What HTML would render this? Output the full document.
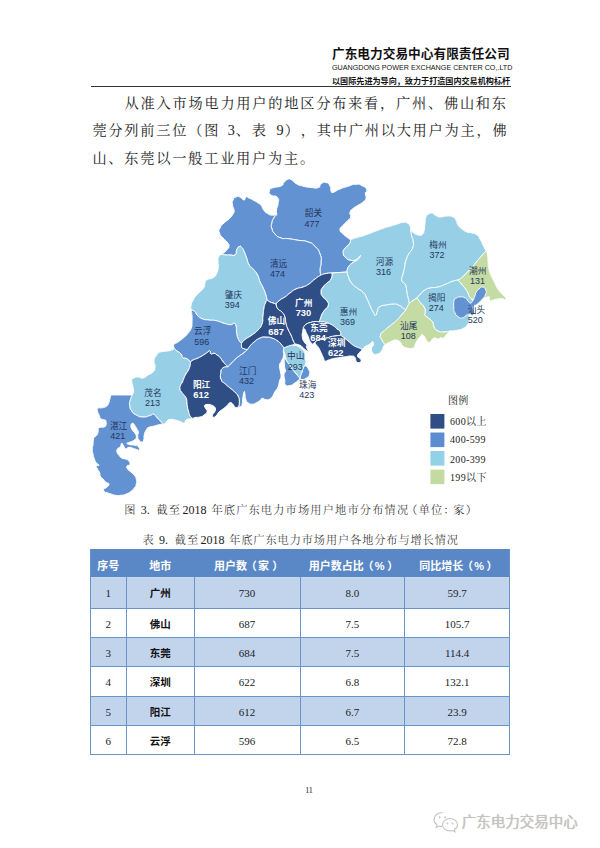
<!DOCTYPE html>
<html lang="zh-CN">
<head>
<meta charset="utf-8">
<title>广东电力交易中心有限责任公司 - 第11页</title>
<style>
html,body{margin:0;padding:0;background:#fff;}
body{width:600px;height:848px;position:relative;overflow:hidden;color:#111;
  font-family:"Liberation Serif","Noto Serif CJK SC",serif;}
.abs{position:absolute;white-space:nowrap;}
/* header */
.h1{left:332px;top:45.5px;width:180px;font:bold 12.7px/16px "Liberation Sans","Noto Sans CJK SC",sans-serif;color:#111;letter-spacing:0px;}
.h2{left:331.5px;top:62.5px;width:200px;transform-origin:0 0;transform:scaleX(0.92);font:7.8px/10px "Liberation Sans","Noto Sans CJK SC",sans-serif;color:#111;}
.h3{left:332px;top:75.7px;width:180px;font:bold 8.1px/11px "Liberation Sans","Noto Sans CJK SC",sans-serif;color:#111;}
.hline{left:91px;top:86.3px;width:420px;height:1px;background:#333;}
/* paragraph */
.para{left:92.4px;top:90px;width:440px;text-spacing-trim:space-all;font:400 14.2px/27.4px "Liberation Serif","Noto Serif CJK SC",serif;letter-spacing:1.78px;color:#222;white-space:normal;}
.para div{white-space:nowrap;}
.para i{font-style:normal;display:inline-block;text-align:right;letter-spacing:0;}
/* captions */
.cap{font:300 11.2px/14px "Liberation Serif","Noto Serif CJK SC",serif;color:#1a1a1a;text-spacing-trim:space-all;}
.cap b{font-weight:normal;font-size:12px;letter-spacing:0;display:inline-block;}
/* table */
/* table */
.tb{position:absolute;left:0;top:0;}
.row{position:absolute;left:90px;width:420px;}
.row span{position:absolute;top:0;height:100%;text-align:center;white-space:nowrap;}
.hd{background:#5a88c6;color:#fff;text-spacing-trim:space-all;font-weight:bold;font-size:11px;font-family:"Liberation Sans","Noto Sans CJK SC",sans-serif;}
.bd{font-size:11px;font-family:"Liberation Serif","Noto Serif CJK SC",serif;color:#222;}
.bd .c{font-weight:bold;font-size:10.5px;font-family:"Liberation Sans","Noto Sans CJK SC",sans-serif;color:#111;}
.o{background:#c2d4ec;}
.hd u{text-decoration:none;position:relative;}
.hl,.vl{position:absolute;background:#6a93c8;}
/* footer */
.pg{left:305px;top:784px;font:9px/12px "Liberation Serif",serif;color:#333;letter-spacing:-0.6px;}
.wm{left:461.5px;top:812px;font:14.5px/20px "Liberation Sans","Noto Sans CJK SC",sans-serif;color:#c4c4c4;text-shadow:0.4px 0.4px 0.8px #b8b8b8;}
svg text{font-family:"Liberation Sans","Noto Sans CJK SC",sans-serif;}
.r{stroke:#fdfeff;stroke-width:1;stroke-linejoin:round;}
.lb{font-size:8.7px;fill:#24365e;}
.nm{font-size:9px;fill:#24365e;}
.lw{font-size:8.7px;fill:#fff;font-weight:bold;}
.nw{font-size:9.3px;fill:#fff;font-weight:bold;}
.lg{font-family:"Liberation Serif","Noto Serif CJK SC",serif;font-size:10px;letter-spacing:0.35px;fill:#222;}
</style>
</head>
<body>
<div class="abs h1">广东电力交易中心有限责任公司</div>
<div class="abs h2">GUANGDONG POWER EXCHANGE CENTER CO,.LTD</div>
<div class="abs h3">以国际先进为导向，致力于打造国内交易机构标杆</div>
<div class="abs hline"></div>

<div class="abs para">
<div style="padding-left:32.2px">从准入市场电力用户的地区分布来看，广州、佛山和东</div>
<div>莞分列前三位（图<i style="width:14.6px;padding-right:1px">3</i>、表<i style="width:16px;padding-right:1.2px">9</i>），其中广州以大用户为主，佛</div>
<div>山、东莞以一般工业用户为主。</div>
</div>

<svg class="abs" style="left:0;top:0" width="600" height="848" viewBox="0 0 600 848">
<g id="map">
<path class="r" fill="#6292d1" d="M277.0 214.3C276.8 212.9 276.2 213.4 276.5 210.0C276.8 206.6 277.7 208.2 278.0 204.0C278.3 199.8 279.8 200.5 277.5 197.5C275.2 194.5 273.7 197.2 271.0 195.0C268.3 192.8 269.0 193.3 269.5 191.0C270.0 188.7 268.7 189.7 272.5 188.0C276.3 186.3 277.2 187.8 281.0 186.0C284.8 184.2 281.8 184.7 284.0 182.5C286.2 180.3 285.2 180.5 287.5 179.5C289.8 178.5 288.2 178.2 291.0 179.5C293.8 180.8 292.2 181.3 296.0 183.5C299.8 185.7 297.5 184.7 302.5 186.0C307.5 187.3 305.7 187.0 311.0 187.5C316.3 188.0 315.2 188.7 318.5 187.5C321.8 186.3 318.5 185.7 321.0 184.0C323.5 182.3 323.0 181.8 326.0 182.5C329.0 183.2 328.3 183.2 330.0 186.0C331.7 188.8 330.1 188.8 331.0 191.0C331.9 193.2 331.0 192.5 332.7 192.5C334.4 192.5 333.6 192.2 336.0 191.0C338.4 189.8 336.0 190.6 340.0 189.0C344.0 187.4 342.7 187.9 348.0 186.3C353.3 184.7 351.3 184.5 356.0 184.3C360.7 184.1 358.4 183.9 362.0 185.7C365.6 187.5 365.6 187.0 366.7 189.7C367.8 192.4 365.5 190.8 365.3 193.7C365.1 196.6 366.9 195.4 366.0 198.3C365.1 201.2 365.6 199.8 362.7 202.3C359.8 204.8 360.4 203.7 357.3 205.7C354.2 207.7 355.7 206.1 353.3 208.3C350.9 210.5 350.9 209.4 350.0 212.3C349.1 215.2 351.4 214.3 350.7 217.0C350.0 219.7 350.7 217.4 348.0 220.3C345.3 223.2 345.4 222.6 342.7 225.7C340.0 228.8 340.0 227.0 340.0 229.7C340.0 232.4 340.5 231.3 342.7 233.7C344.9 236.1 344.1 235.0 346.7 237.0C349.3 239.0 349.3 238.9 350.6 239.8C350.1 241.3 351.1 241.4 349.2 244.2C347.3 247.0 347.0 245.3 345.0 248.3C343.0 251.3 343.0 250.2 343.3 253.3C343.6 256.4 343.6 255.3 345.8 257.5C348.0 259.7 346.9 259.2 350.0 260.0C353.1 260.8 351.9 261.1 355.0 260.0C358.1 258.9 357.4 258.2 359.2 256.7C361.0 255.2 360.9 254.6 360.5 255.5C360.1 256.4 360.5 257.2 358.0 259.5C355.5 261.8 356.0 260.3 353.0 262.5C350.0 264.7 350.8 263.8 349.0 266.0C347.2 268.2 348.2 267.0 347.5 269.0C346.8 271.0 347.2 271.0 347.0 272.0L332.0 273.0C330.0 273.2 329.7 272.8 326.0 273.5C322.3 274.2 322.7 274.5 321.0 275.0C320.7 273.3 320.0 274.2 320.0 270.0C320.0 265.8 321.0 267.8 321.0 262.5C321.0 257.2 322.0 259.3 320.0 254.0C318.0 248.7 318.9 250.5 315.0 246.5C311.1 242.5 314.1 244.1 308.3 242.0C302.5 239.9 304.4 241.3 297.7 240.2C291.0 239.1 293.9 239.4 288.3 238.7C282.7 238.0 285.4 239.6 281.0 238.0C276.6 236.4 278.1 237.3 275.0 234.0C271.9 230.7 272.8 231.6 271.7 228.0C270.6 224.4 271.0 226.6 271.7 223.3C272.4 220.0 271.9 221.0 273.7 218.0C275.5 215.0 275.9 215.5 277.0 214.3Z"/>
<path class="r" fill="#6292d1" d="M277.0 214.3C275.4 214.6 275.4 215.4 272.3 215.2C269.2 215.0 270.6 215.3 267.7 213.6C264.8 211.9 265.9 212.8 263.7 210.0C261.5 207.2 263.0 207.7 261.0 205.3C259.0 202.9 260.0 204.3 257.7 202.7C255.4 201.1 256.9 202.1 254.0 200.5C251.1 198.9 251.7 199.2 249.0 198.0C246.3 196.8 247.7 196.3 246.0 197.0C244.3 197.7 246.0 200.0 244.0 200.0C242.0 200.0 242.7 198.0 240.0 197.0C237.3 196.0 238.3 196.0 236.0 197.0C233.7 198.0 234.2 197.3 233.0 200.0C231.8 202.7 232.2 201.7 232.5 205.0C232.8 208.3 233.8 207.0 234.0 210.0C234.2 213.0 234.7 211.0 233.0 214.0C231.3 217.0 232.0 216.0 229.0 219.0C226.0 222.0 227.0 220.0 224.0 223.0C221.0 226.0 221.5 224.7 220.0 228.0C218.5 231.3 218.5 229.7 219.5 233.0C220.5 236.3 220.5 235.0 223.0 238.0C225.5 241.0 225.0 239.3 227.0 242.0C229.0 244.7 229.1 243.3 229.0 246.0C228.9 248.7 229.0 247.2 226.7 250.0C224.4 252.8 223.6 252.9 222.0 254.3C223.3 254.5 223.3 254.8 226.0 255.0C228.7 255.2 226.9 255.1 230.0 255.0C233.1 254.9 233.1 256.4 235.3 254.7C237.5 253.0 235.4 252.7 236.7 250.0C238.0 247.3 237.5 247.5 239.2 246.7C240.9 245.9 240.0 245.8 241.7 247.5C243.4 249.2 242.5 248.1 244.2 251.7C245.9 255.3 245.0 253.9 246.7 258.3C248.4 262.7 247.0 261.4 249.2 265.0C251.4 268.6 250.5 265.9 253.3 269.2C256.1 272.5 255.3 270.8 257.5 275.0C259.7 279.2 258.1 277.3 260.0 281.7C261.9 286.1 261.4 283.9 263.3 288.3C265.2 292.7 264.6 291.1 265.8 295.0C267.0 298.9 266.6 298.3 267.0 300.0C268.0 300.7 268.0 301.0 270.0 302.0C272.0 303.0 271.0 302.3 273.0 303.0C275.0 303.7 275.0 303.7 276.0 304.0C277.3 302.7 277.0 302.3 280.0 300.0C283.0 297.7 281.7 299.3 285.0 297.0C288.3 294.7 286.3 295.7 290.0 293.0C293.7 290.3 291.7 291.0 296.0 289.0C300.3 287.0 298.7 288.7 303.0 287.0C307.3 285.3 305.0 286.7 309.0 284.0C313.0 281.3 311.0 282.0 315.0 279.0C319.0 276.0 319.0 276.3 321.0 275.0C320.7 273.3 320.0 274.2 320.0 270.0C320.0 265.8 321.0 267.8 321.0 262.5C321.0 257.2 322.0 259.3 320.0 254.0C318.0 248.7 318.9 250.5 315.0 246.5C311.1 242.5 314.1 244.1 308.3 242.0C302.5 239.9 304.4 241.3 297.7 240.2C291.0 239.1 293.9 239.4 288.3 238.7C282.7 238.0 285.4 239.6 281.0 238.0C276.6 236.4 278.1 237.3 275.0 234.0C271.9 230.7 272.8 231.6 271.7 228.0C270.6 224.4 271.0 226.6 271.7 223.3C272.4 220.0 271.9 221.0 273.7 218.0C275.5 215.0 275.9 215.5 277.0 214.3Z"/>
<path class="r" fill="#97d0e6" d="M222.0 254.3C220.9 255.1 220.0 254.2 218.7 256.7C217.4 259.2 218.1 258.4 218.0 261.7C217.9 265.0 218.7 262.8 218.3 266.7C217.9 270.6 218.4 269.7 216.7 273.3C215.0 276.9 216.6 275.3 213.3 277.5C210.0 279.7 209.5 278.1 206.7 280.0C203.9 281.9 206.1 280.5 205.0 283.3C203.9 286.1 206.1 284.4 203.3 288.3C200.5 292.2 200.0 291.1 196.7 295.0C193.4 298.9 195.2 296.5 193.3 300.0C191.4 303.5 191.7 302.2 191.0 305.5C190.3 308.8 191.2 308.5 191.3 310.0C192.4 310.5 192.7 309.7 194.7 311.5C196.7 313.3 194.9 312.9 197.3 315.3C199.7 317.7 198.2 317.1 202.0 318.7C205.8 320.3 204.0 319.3 208.7 320.0C213.4 320.7 210.9 319.6 216.0 320.7C221.1 321.8 219.1 322.0 224.0 323.3C228.9 324.6 227.4 324.7 230.7 324.7C234.0 324.7 232.2 322.9 234.0 323.3C235.8 323.7 235.1 322.7 236.0 326.0C236.9 329.3 235.9 328.8 236.7 333.3C237.5 337.8 236.9 336.1 238.5 339.5C240.1 342.9 240.5 342.2 241.5 343.5C242.7 342.2 241.5 342.3 245.0 339.5C248.5 336.7 247.7 338.2 252.0 335.0C256.3 331.8 254.7 333.7 258.0 330.0C261.3 326.3 260.3 328.7 262.0 324.0C263.7 319.3 262.3 321.3 263.0 316.0C263.7 310.7 263.2 312.3 264.0 308.0C264.8 303.7 264.5 305.7 265.5 303.0C266.5 300.3 266.5 301.0 267.0 300.0C266.6 298.3 267.0 298.9 265.8 295.0C264.6 291.1 265.2 292.7 263.3 288.3C261.4 283.9 261.9 286.1 260.0 281.7C258.1 277.3 259.7 279.2 257.5 275.0C255.3 270.8 256.1 272.5 253.3 269.2C250.5 265.9 251.4 268.6 249.2 265.0C247.0 261.4 248.4 262.7 246.7 258.3C245.0 253.9 245.9 255.3 244.2 251.7C242.5 248.1 243.4 249.2 241.7 247.5C240.0 245.8 240.9 245.9 239.2 246.7C237.5 247.5 238.0 247.3 236.7 250.0C235.4 252.7 237.5 253.0 235.3 254.7C233.1 256.4 233.1 254.9 230.0 255.0C226.9 255.1 228.7 255.2 226.0 255.0C223.3 254.8 223.3 254.5 222.0 254.3Z"/>
<path class="r" fill="#6292d1" d="M191.3 310.0C191.5 312.0 191.8 311.8 192.0 316.0C192.2 320.2 192.2 318.7 192.0 322.7C191.8 326.7 192.6 324.5 191.3 328.0C190.0 331.5 190.7 330.0 188.0 333.3C185.3 336.6 186.6 335.1 183.3 338.0C180.0 340.9 180.9 340.0 178.0 342.0C175.1 344.0 176.0 342.9 174.5 344.0C173.0 345.1 173.5 343.7 173.4 345.2C173.3 346.7 174.0 347.4 174.3 348.5C175.2 349.3 174.8 349.2 177.0 351.0C179.2 352.8 179.2 351.8 181.0 354.0C182.8 356.2 180.8 356.0 182.5 357.5C184.2 359.0 183.8 357.5 186.0 358.5C188.2 359.5 187.5 359.3 189.0 360.5C190.5 361.7 190.0 361.5 190.5 362.0C191.3 361.3 190.8 361.2 193.0 360.0C195.2 358.8 194.3 359.7 197.0 358.5C199.7 357.3 198.3 358.0 201.0 356.5C203.7 355.0 202.7 355.5 205.0 354.0C207.3 352.5 206.4 353.1 208.0 352.0C209.6 350.9 208.7 350.1 209.7 350.8C210.7 351.5 209.6 353.2 211.0 354.0C212.4 354.8 212.0 353.0 214.0 353.3C216.0 353.6 215.0 353.6 217.0 355.0C219.0 356.4 218.2 355.5 220.0 357.5C221.8 359.5 220.7 358.7 222.5 361.0C224.3 363.3 223.7 362.6 225.5 364.5C227.3 366.4 227.2 366.0 228.0 366.7C228.9 365.8 228.3 366.5 230.7 364.0C233.1 361.5 232.4 362.0 235.3 359.3C238.2 356.6 236.4 358.2 239.3 356.0C242.2 353.8 241.3 354.9 244.0 352.7C246.7 350.5 246.3 350.6 247.5 349.5C246.5 349.3 246.3 349.5 244.5 348.8C242.7 348.1 243.0 349.3 242.0 347.5C241.0 345.7 241.7 344.8 241.5 343.5C240.5 342.2 240.1 342.9 238.5 339.5C236.9 336.1 237.5 337.8 236.7 333.3C235.9 328.8 236.9 329.3 236.0 326.0C235.1 322.7 235.8 323.7 234.0 323.3C232.2 322.9 234.0 324.7 230.7 324.7C227.4 324.7 228.9 324.6 224.0 323.3C219.1 322.0 221.1 321.8 216.0 320.7C210.9 319.6 213.4 320.7 208.7 320.0C204.0 319.3 205.8 320.3 202.0 318.7C198.2 317.1 199.7 317.7 197.3 315.3C194.9 312.9 196.7 313.3 194.7 311.5C192.7 309.7 192.4 310.5 191.3 310.0Z"/>
<path class="r" fill="#97d0e6" d="M350.6 239.8C352.6 239.0 352.5 238.8 356.7 237.5C360.9 236.2 358.9 237.2 363.3 235.8C367.7 234.4 365.5 235.0 370.0 233.3C374.5 231.6 372.3 232.5 376.7 230.8C381.1 229.1 378.9 229.8 383.3 228.3C387.7 226.8 385.5 227.7 390.0 226.3C394.5 224.9 392.3 225.5 396.7 224.2C401.1 222.9 399.7 222.8 403.3 222.5C406.9 222.2 405.3 222.2 407.5 223.3C409.7 224.4 408.9 223.6 410.0 225.8C411.1 228.0 410.5 228.6 410.8 230.0C411.1 231.9 410.9 231.9 411.7 235.8C412.5 239.7 413.0 237.5 413.3 241.7C413.6 245.9 413.9 244.4 412.5 248.3C411.1 252.2 411.1 250.0 409.2 253.3C407.3 256.6 408.0 255.0 406.7 258.3C405.4 261.6 405.8 261.1 405.2 263.3C404.6 265.5 405.6 261.7 405.0 265.0C404.4 268.3 404.4 268.5 403.3 273.3C402.2 278.1 401.5 276.3 401.7 279.5C401.9 282.7 402.6 281.0 404.0 283.0C405.4 285.0 404.8 282.6 405.8 285.5C406.8 288.4 406.2 287.9 406.9 291.7C407.6 295.5 407.4 294.1 408.0 297.0C408.6 299.9 408.4 298.3 408.8 300.5C409.2 302.7 409.1 302.5 409.2 303.5C408.6 304.5 408.6 304.3 407.5 306.5C406.4 308.7 406.4 308.8 405.8 310.0C405.0 309.4 405.8 310.0 403.3 308.3C400.8 306.6 401.6 306.4 398.3 305.0C395.0 303.6 397.2 304.2 393.3 304.2C389.4 304.2 391.1 304.2 386.7 305.0C382.3 305.8 383.1 304.8 380.0 306.7C376.9 308.6 378.9 307.9 377.5 310.8C376.1 313.7 377.2 314.7 375.8 315.3C374.4 315.9 375.2 315.7 373.3 312.5C371.4 309.3 372.2 310.5 370.0 305.8C367.8 301.1 368.9 302.7 366.7 298.3C364.5 293.9 366.4 295.8 363.3 292.5C360.2 289.2 361.4 291.4 357.5 288.3C353.6 285.2 354.8 287.2 351.7 283.3C348.6 279.4 349.9 280.5 348.3 276.7C346.7 272.9 347.4 273.6 347.0 272.0C347.2 271.0 346.8 271.0 347.5 269.0C348.2 267.0 347.2 268.2 349.0 266.0C350.8 263.8 350.0 264.7 353.0 262.5C356.0 260.3 355.5 261.8 358.0 259.5C360.5 257.2 360.1 256.4 360.5 255.5C360.9 254.6 361.0 255.2 359.2 256.7C357.4 258.2 358.1 258.9 355.0 260.0C351.9 261.1 353.1 260.8 350.0 260.0C346.9 259.2 348.0 259.7 345.8 257.5C343.6 255.3 343.6 256.4 343.3 253.3C343.0 250.2 343.0 251.3 345.0 248.3C347.0 245.3 347.3 247.0 349.2 244.2C351.1 241.4 350.1 241.3 350.6 239.8Z"/>
<path class="r" fill="#97d0e6" d="M410.8 230.0C411.6 230.8 410.8 230.8 413.3 232.5C415.8 234.2 415.2 234.4 418.3 235.0C421.4 235.6 420.5 235.9 422.5 234.2C424.5 232.5 423.4 233.6 424.2 230.0C425.0 226.4 424.5 227.5 425.0 223.3C425.5 219.1 424.8 220.4 425.8 217.5C426.8 214.6 425.9 216.0 428.0 214.5C430.1 213.0 429.7 212.8 432.0 213.0C434.3 213.2 432.3 213.7 435.0 215.0C437.7 216.3 436.0 216.7 440.0 217.0C444.0 217.3 442.7 216.0 447.0 216.0C451.3 216.0 450.0 215.7 453.0 217.0C456.0 218.3 454.3 217.3 456.0 220.0C457.7 222.7 456.0 222.0 458.0 225.0C460.0 228.0 459.0 226.7 462.0 229.0C465.0 231.3 463.7 230.7 467.0 232.0C470.3 233.3 468.7 232.0 472.0 233.0C475.3 234.0 474.3 233.0 477.0 235.0C479.7 237.0 478.0 235.7 480.0 239.0C482.0 242.3 481.0 241.0 483.0 245.0C485.0 249.0 485.0 249.0 486.0 251.0C484.5 252.7 484.8 252.2 481.5 256.0C478.2 259.8 479.5 258.3 476.0 262.5C472.5 266.7 474.5 264.7 471.0 268.5C467.5 272.3 468.7 270.8 465.5 274.0C462.3 277.2 464.0 276.0 461.5 278.0C459.0 280.0 459.2 279.3 458.0 280.0C456.0 280.5 456.3 280.0 452.0 281.5C447.7 283.0 449.7 282.7 445.0 284.5C440.3 286.3 443.0 285.8 438.0 287.0C433.0 288.2 434.3 287.0 430.0 288.0C425.7 289.0 428.0 288.2 425.0 290.0C422.0 291.8 423.7 290.8 421.0 293.5C418.3 296.2 418.3 296.5 417.0 298.0C415.7 298.8 415.6 298.7 413.0 300.5C410.4 302.3 410.5 302.5 409.2 303.5C409.1 302.5 409.2 302.7 408.8 300.5C408.4 298.3 408.6 299.9 408.0 297.0C407.4 294.1 407.6 295.5 406.9 291.7C406.2 287.9 406.8 288.4 405.8 285.5C404.8 282.6 405.4 285.0 404.0 283.0C402.6 281.0 401.9 282.7 401.7 279.5C401.5 276.3 402.2 278.1 403.3 273.3C404.4 268.5 404.4 268.3 405.0 265.0C405.6 261.7 404.6 265.5 405.2 263.3C405.8 261.1 405.4 261.6 406.7 258.3C408.0 255.0 407.3 256.6 409.2 253.3C411.1 250.0 411.1 252.2 412.5 248.3C413.9 244.4 413.6 245.9 413.3 241.7C413.0 237.5 412.5 239.7 411.7 235.8C410.9 231.9 411.1 231.9 410.8 230.0Z"/>
<path class="r" fill="#97d0e6" d="M332.0 273.0L347.0 272.0C347.4 273.6 346.7 272.9 348.3 276.7C349.9 280.5 348.6 279.4 351.7 283.3C354.8 287.2 353.6 285.2 357.5 288.3C361.4 291.4 360.2 289.2 363.3 292.5C366.4 295.8 364.5 293.9 366.7 298.3C368.9 302.7 367.8 301.1 370.0 305.8C372.2 310.5 371.4 309.3 373.3 312.5C375.2 315.7 374.4 315.9 375.8 315.3C377.2 314.7 376.1 313.7 377.5 310.8C378.9 307.9 376.9 308.6 380.0 306.7C383.1 304.8 382.3 305.8 386.7 305.0C391.1 304.2 389.4 304.2 393.3 304.2C397.2 304.2 395.0 303.6 398.3 305.0C401.6 306.4 400.8 306.6 403.3 308.3C405.8 310.0 405.0 309.4 405.8 310.0C404.4 311.7 404.6 311.5 401.5 315.0C398.4 318.5 400.2 317.0 396.5 320.5C392.8 324.0 394.5 322.2 390.5 325.5C386.5 328.8 387.8 327.3 384.5 330.5C381.2 333.7 381.3 331.8 380.5 335.0C379.7 338.2 380.5 336.8 382.0 340.0C383.5 343.2 384.0 343.0 385.0 344.5C384.5 345.2 384.7 344.3 383.5 346.5C382.3 348.7 383.5 348.5 381.5 351.0C379.5 353.5 380.2 353.2 377.5 354.0C374.8 354.8 375.5 355.2 373.5 353.5C371.5 351.8 371.6 351.8 371.5 349.0C371.4 346.2 373.0 347.4 373.3 345.0C373.6 342.6 373.6 342.0 372.5 341.7C371.4 341.4 372.5 342.3 370.0 344.0C367.5 345.7 367.7 344.7 365.0 346.7C362.3 348.7 363.0 348.9 362.0 350.0C361.6 349.6 362.3 349.6 360.7 348.7C359.1 347.8 359.8 348.4 357.3 347.3C354.8 346.2 356.0 347.1 353.3 345.3C350.6 343.5 352.0 344.2 349.3 342.0C346.6 339.8 347.4 340.4 345.3 338.7C343.2 337.0 344.5 338.1 343.0 337.0C341.5 335.9 341.5 335.9 340.7 335.3C340.5 334.0 341.3 333.5 340.0 331.3C338.7 329.1 339.1 330.7 336.7 328.7C334.3 326.7 336.0 327.3 332.7 325.3C329.4 323.3 329.9 323.9 326.7 322.7C323.5 321.5 325.6 322.0 323.0 321.8C320.4 321.6 320.3 321.9 319.0 322.0C319.5 320.7 319.5 320.7 320.5 318.0C321.5 315.3 320.5 316.8 322.0 314.0C323.5 311.2 323.0 312.2 325.0 309.5C327.0 306.8 327.3 308.8 328.0 306.0C328.7 303.2 328.7 304.0 327.0 301.0C325.3 298.0 325.0 300.0 323.0 297.0C321.0 294.0 321.0 295.3 321.0 292.0C321.0 288.7 321.0 290.0 323.0 287.0C325.0 284.0 324.3 285.7 327.0 283.0C329.7 280.3 329.3 282.3 331.0 279.0C332.7 275.7 331.7 275.0 332.0 273.0Z"/>
<path class="r" fill="#c4dba3" d="M486.0 251.0C486.5 252.3 486.8 251.5 487.5 255.0C488.2 258.5 487.6 257.2 488.0 261.5C488.4 265.8 487.8 263.6 488.7 268.0C489.6 272.4 488.9 270.3 490.7 274.7C492.5 279.1 491.8 276.9 494.0 281.3C496.2 285.7 494.9 284.0 497.3 288.0C499.7 292.0 498.4 289.7 501.3 293.3C504.2 296.9 506.4 296.9 506.0 298.7C505.6 300.5 504.2 298.3 500.0 298.7C495.8 299.1 496.6 299.3 493.3 300.0C490.0 300.7 491.3 301.7 490.0 300.7C488.7 299.7 490.4 298.1 489.3 297.0C488.2 295.9 488.5 297.0 486.7 297.3C484.9 297.6 486.9 297.1 484.0 298.0C481.1 298.9 482.2 299.8 478.0 300.0C473.8 300.2 473.5 299.1 471.3 298.7C470.6 298.0 470.4 298.5 469.3 296.7C468.2 294.9 469.3 296.0 468.0 293.3C466.7 290.6 467.5 291.8 465.3 288.7C463.1 285.6 463.7 286.9 461.3 284.0C458.9 281.1 459.1 281.3 458.0 280.0C459.2 279.3 459.0 280.0 461.5 278.0C464.0 276.0 462.3 277.2 465.5 274.0C468.7 270.8 467.5 272.3 471.0 268.5C474.5 264.7 472.5 266.7 476.0 262.5C479.5 258.3 478.2 259.8 481.5 256.0C484.8 252.2 484.5 252.7 486.0 251.0Z"/>
<path class="r" fill="#97d0e6" d="M417.0 298.0C418.3 296.5 418.3 296.2 421.0 293.5C423.7 290.8 422.0 291.8 425.0 290.0C428.0 288.2 425.7 289.0 430.0 288.0C434.3 287.0 433.0 288.2 438.0 287.0C443.0 285.8 440.3 286.3 445.0 284.5C449.7 282.7 447.7 283.0 452.0 281.5C456.3 280.0 456.0 280.5 458.0 280.0C459.1 281.3 458.9 281.1 461.3 284.0C463.7 286.9 463.1 285.6 465.3 288.7C467.5 291.8 466.7 290.6 468.0 293.3C469.3 296.0 468.2 294.9 469.3 296.7C470.4 298.5 470.6 298.0 471.3 298.7C471.9 300.1 473.1 299.9 473.0 303.0C472.9 306.1 472.2 304.7 471.0 308.0C469.8 311.3 470.2 310.0 469.5 313.0C468.8 316.0 469.3 314.3 469.0 317.0C468.7 319.7 469.3 318.3 468.7 321.0C468.1 323.7 469.1 322.6 467.3 325.0C465.5 327.4 466.8 326.5 463.3 328.3C459.8 330.1 461.0 329.4 456.7 330.3C452.4 331.2 452.6 330.8 450.5 331.0C448.3 331.3 448.2 332.0 444.0 332.0C439.8 332.0 441.3 332.7 438.0 331.0C434.7 329.3 435.8 329.9 434.0 327.0C432.2 324.1 434.5 325.2 432.7 322.3C430.9 319.4 431.4 320.7 428.7 318.3C426.0 315.9 425.8 317.0 424.7 315.0C423.6 313.0 425.5 315.0 425.3 312.3C425.1 309.6 425.8 310.3 424.0 307.0C422.2 303.7 422.3 305.3 420.0 302.3C417.7 299.3 418.0 299.4 417.0 298.0Z"/>
<path class="r" fill="#c4dba3" d="M417.0 298.0C418.0 299.4 417.7 299.3 420.0 302.3C422.3 305.3 422.2 303.7 424.0 307.0C425.8 310.3 425.1 309.6 425.3 312.3C425.5 315.0 423.6 313.0 424.7 315.0C425.8 317.0 426.0 315.9 428.7 318.3C431.4 320.7 430.9 319.4 432.7 322.3C434.5 325.2 432.2 324.1 434.0 327.0C435.8 329.9 434.7 329.3 438.0 331.0C441.3 332.7 439.8 332.0 444.0 332.0C448.2 332.0 448.3 331.3 450.5 331.0C449.3 332.0 449.3 331.7 447.0 334.0C444.7 336.3 445.5 336.8 443.5 338.0C441.5 339.2 442.8 337.2 441.0 337.5C439.2 337.8 440.3 338.8 438.0 339.0C435.7 339.2 436.7 337.0 434.0 338.0C431.3 339.0 432.3 341.0 430.0 342.0C427.7 343.0 429.3 343.3 427.0 341.0C424.7 338.7 425.3 336.3 423.0 335.0C420.7 333.7 422.0 335.0 420.0 337.0C418.0 339.0 418.7 338.3 417.0 341.0C415.3 343.7 416.3 342.7 415.0 345.0C413.7 347.3 415.7 347.0 413.0 348.0C410.3 349.0 410.3 348.7 407.0 348.0C403.7 347.3 405.3 348.0 403.0 346.0C400.7 344.0 402.3 344.0 400.0 342.0C397.7 340.0 398.7 340.3 396.0 340.0C393.3 339.7 394.7 340.0 392.0 341.0C389.3 342.0 390.3 341.8 388.0 343.0C385.7 344.2 386.0 344.0 385.0 344.5C384.0 343.0 383.5 343.2 382.0 340.0C380.5 336.8 379.7 338.2 380.5 335.0C381.3 331.8 381.2 333.7 384.5 330.5C387.8 327.3 386.5 328.8 390.5 325.5C394.5 322.2 392.8 324.0 396.5 320.5C400.2 317.0 398.4 318.5 401.5 315.0C404.6 311.5 404.4 311.7 405.8 310.0C406.4 308.8 406.4 308.7 407.5 306.5C408.6 304.3 408.6 304.5 409.2 303.5C410.5 302.5 410.4 302.3 413.0 300.5C415.6 298.7 415.7 298.8 417.0 298.0Z"/>
<path class="r" fill="#97d0e6" d="M174.3 348.5C175.2 349.3 174.8 349.2 177.0 351.0C179.2 352.8 179.2 351.8 181.0 354.0C182.8 356.2 180.8 356.0 182.5 357.5C184.2 359.0 183.8 357.5 186.0 358.5C188.2 359.5 187.5 359.3 189.0 360.5C190.5 361.7 190.0 361.5 190.5 362.0C190.3 363.3 190.7 363.3 190.0 366.0C189.3 368.7 189.8 367.3 188.5 370.0C187.2 372.7 187.5 371.3 186.0 374.0C184.5 376.7 185.2 375.3 184.0 378.0C182.8 380.7 183.7 379.5 182.5 382.0C181.3 384.5 181.3 383.2 180.5 385.5C179.7 387.8 179.7 386.8 180.0 389.0C180.3 391.2 180.0 389.8 181.5 392.0C183.0 394.2 182.8 393.2 184.5 395.5C186.2 397.8 185.7 396.5 186.5 399.0C187.3 401.5 186.7 400.3 187.0 403.0C187.3 405.7 187.0 404.3 187.5 407.0C188.0 409.7 187.8 408.5 188.5 411.0C189.2 413.5 188.7 412.5 189.5 414.5C190.3 416.5 189.8 415.7 191.0 417.0C192.2 418.3 192.3 418.0 193.0 418.5C191.7 418.7 191.3 418.5 189.0 419.0C186.7 419.5 187.7 418.7 186.0 420.0C184.3 421.3 186.0 422.5 184.0 423.0C182.0 423.5 183.0 422.5 180.0 421.5C177.0 420.5 178.3 420.7 175.0 420.0C171.7 419.3 172.7 419.2 170.0 419.5C167.3 419.8 168.5 419.8 167.0 421.0C165.5 422.2 166.8 421.9 165.5 423.0C164.2 424.1 163.8 423.9 163.0 424.3C162.1 423.2 162.3 423.2 160.3 421.0C158.3 418.8 159.2 419.9 157.0 417.7C154.8 415.5 156.1 415.0 153.7 414.3C151.3 413.6 153.3 414.8 149.7 415.7C146.1 416.6 147.5 417.2 143.0 417.0C138.5 416.8 140.1 417.0 136.3 415.0C132.5 413.0 133.9 414.1 131.7 411.0C129.5 407.9 130.2 409.5 129.7 405.7C129.2 401.9 129.4 403.3 130.3 399.7C131.2 396.1 131.6 396.6 132.3 395.0C132.7 393.7 133.3 393.7 133.5 391.0C133.7 388.3 133.6 390.7 133.0 387.0C132.4 383.3 131.5 382.9 131.7 380.0C131.9 377.1 131.4 379.3 133.5 378.3C135.6 377.3 134.8 377.1 138.0 377.0C141.2 376.9 139.7 378.7 143.0 378.0C146.3 377.3 144.7 377.0 148.0 375.0C151.3 373.0 150.7 374.7 153.0 372.0C155.3 369.3 154.7 370.7 155.0 367.0C155.3 363.3 153.7 364.7 154.0 361.0C154.3 357.3 154.7 358.5 156.0 356.0C157.3 353.5 156.7 354.8 158.0 353.5C159.3 352.2 156.0 353.0 160.0 352.0C164.0 351.0 165.2 351.7 170.0 350.5C174.8 349.3 172.9 349.2 174.3 348.5Z"/>
<path class="r" fill="#6292d1" d="M163.0 424.3C161.9 424.4 162.6 423.9 159.7 424.5C156.8 425.1 157.9 425.1 154.3 426.0C150.7 426.9 151.7 426.0 149.0 427.3C146.3 428.6 147.9 427.5 146.3 430.0C144.7 432.5 145.2 431.4 144.3 434.7C143.4 438.0 144.6 437.6 143.7 440.0C142.8 442.4 143.3 442.0 141.7 442.0C140.1 442.0 140.3 442.0 139.0 440.0C137.7 438.0 137.9 438.7 137.7 436.0C137.5 433.3 138.8 434.7 138.3 432.0C137.8 429.3 137.6 430.4 136.3 428.0C135.0 425.6 135.6 426.3 134.3 424.7C133.0 423.1 133.4 422.9 132.3 423.3C131.2 423.7 131.0 423.8 131.0 426.0C131.0 428.2 131.0 427.6 132.3 430.0C133.6 432.4 133.7 430.9 135.0 433.3C136.3 435.7 136.5 435.1 136.3 437.3C136.1 439.5 136.3 438.4 134.3 440.0C132.3 441.6 132.7 440.9 130.3 442.0C127.9 443.1 127.0 442.4 127.0 443.3C127.0 444.2 127.6 444.0 130.3 444.7C133.0 445.4 132.3 444.6 135.0 445.3C137.7 446.0 137.0 445.1 138.3 446.7C139.6 448.3 139.7 449.1 139.0 450.0C138.3 450.9 138.5 450.0 136.3 449.3C134.1 448.6 134.7 448.7 132.3 448.0C129.9 447.3 131.2 447.1 129.0 447.3C126.8 447.5 127.5 449.1 125.7 448.7C123.9 448.3 125.0 447.8 123.7 446.0C122.4 444.2 122.8 443.1 121.7 443.3C120.6 443.5 121.6 444.9 120.3 446.7C119.0 448.5 118.8 446.9 117.7 448.7C116.6 450.5 116.6 449.8 117.0 452.0C117.4 454.2 117.4 453.3 119.0 455.3C120.6 457.3 119.3 456.7 121.7 458.0C124.1 459.3 123.9 458.2 126.3 459.3C128.7 460.4 127.9 459.5 129.0 461.3C130.1 463.1 130.4 463.1 129.7 464.7C129.0 466.3 127.7 464.5 127.0 466.0C126.3 467.5 126.4 467.3 127.7 469.3C129.0 471.3 128.8 470.0 131.0 472.0C133.2 474.0 132.5 472.9 134.3 475.3C136.1 477.7 135.6 476.4 136.3 479.3C137.0 482.2 137.0 481.1 136.3 484.0C135.6 486.9 136.1 485.6 134.3 488.0C132.5 490.4 133.7 489.3 131.0 491.3C128.3 493.3 129.6 492.7 126.3 494.0C123.0 495.3 124.5 494.9 121.0 495.3C117.5 495.7 119.0 495.7 115.7 495.3C112.4 494.9 113.9 494.9 111.0 494.0C108.1 493.1 109.0 493.4 107.0 492.7C105.0 492.0 106.1 493.1 105.0 492.0C103.9 490.9 103.2 490.8 103.7 489.3C104.2 487.8 104.7 489.3 106.5 487.5C108.3 485.7 109.2 485.7 109.0 484.0C108.8 482.3 108.0 484.0 106.0 482.3C104.0 480.6 104.9 481.1 103.0 479.0C101.1 476.9 101.4 478.1 100.3 476.0C99.2 473.9 100.6 474.9 99.7 472.7C98.8 470.5 98.8 471.5 97.7 469.3C96.6 467.1 95.9 467.3 96.3 466.0C96.7 464.7 99.0 466.4 99.0 465.3C99.0 464.2 97.9 464.9 96.3 462.7C94.7 460.5 95.4 461.6 94.3 458.7C93.2 455.8 93.7 457.1 93.0 454.0C92.3 450.9 92.3 452.4 92.3 449.3C92.3 446.2 92.6 447.7 93.0 444.7C93.4 441.7 93.0 442.7 93.4 440.3C93.8 437.9 93.2 439.1 94.3 437.4C95.4 435.7 95.5 437.1 96.8 435.3C98.0 433.5 97.5 434.2 98.0 432.0C98.5 429.8 97.8 430.2 98.4 428.7C99.0 427.2 97.9 428.0 99.7 427.4C101.5 426.8 101.7 427.7 103.8 427.0C105.9 426.3 105.2 427.2 105.9 425.3C106.6 423.4 106.3 423.0 105.9 421.2C105.5 419.4 106.4 420.7 104.7 419.9C103.0 419.1 102.7 420.2 100.9 418.7C99.1 417.2 100.4 417.8 99.2 415.3C98.1 412.8 98.0 413.6 97.6 411.2C97.2 408.8 96.5 409.4 98.0 408.2C99.5 407.1 99.6 408.4 102.2 407.8C104.8 407.2 103.8 408.0 105.9 406.6C108.0 405.2 107.1 406.1 108.4 403.7C109.7 401.3 108.9 402.4 109.7 399.5C110.5 396.6 110.5 396.4 110.9 394.9L132.3 395.0C131.6 396.6 131.2 396.1 130.3 399.7C129.4 403.3 129.2 401.9 129.7 405.7C130.2 409.5 129.5 407.9 131.7 411.0C133.9 414.1 132.5 413.0 136.3 415.0C140.1 417.0 138.5 416.8 143.0 417.0C147.5 417.2 146.1 416.6 149.7 415.7C153.3 414.8 151.3 413.6 153.7 414.3C156.1 415.0 154.8 415.5 157.0 417.7C159.2 419.9 158.3 418.8 160.3 421.0C162.3 423.2 162.1 423.2 163.0 424.3Z"/>
<path class="r" fill="#6292d1" d="M228.0 366.7C228.9 365.8 228.3 366.5 230.7 364.0C233.1 361.5 232.4 362.0 235.3 359.3C238.2 356.6 236.4 358.2 239.3 356.0C242.2 353.8 241.3 354.9 244.0 352.7C246.7 350.5 246.3 350.6 247.5 349.5C248.3 348.3 247.8 348.5 250.0 346.0C252.2 343.5 250.7 344.7 254.0 342.0C257.3 339.3 256.0 339.7 260.0 338.0C264.0 336.3 262.0 337.0 266.0 337.0C270.0 337.0 268.3 336.8 272.0 338.0C275.7 339.2 274.0 338.5 277.0 340.5C280.0 342.5 278.7 341.5 281.0 344.0C283.3 346.5 283.0 346.7 284.0 348.0C283.8 349.1 283.5 348.6 283.3 351.3C283.1 354.0 284.1 352.8 283.5 356.0C282.9 359.2 282.8 357.8 281.5 361.0C280.2 364.2 279.9 362.1 279.5 365.5C279.1 368.9 279.8 367.6 280.3 371.3C280.8 375.0 281.3 373.3 281.0 376.5C280.7 379.7 280.5 377.5 279.5 381.0C278.5 384.5 279.5 383.5 278.0 387.0C276.5 390.5 276.8 388.5 275.0 391.5C273.2 394.5 274.5 393.5 272.7 396.0C270.9 398.5 271.9 397.8 269.7 399.0C267.5 400.2 268.5 399.9 266.0 399.7C263.5 399.5 264.3 398.0 262.3 398.3C260.3 398.6 262.0 399.0 260.0 400.5C258.0 402.0 258.8 401.5 256.3 402.7C253.8 403.9 255.3 404.2 252.5 404.2C249.7 404.2 250.3 404.4 248.0 402.7C245.7 401.0 246.7 401.7 245.7 399.0C244.7 396.3 245.5 397.0 245.0 394.5C244.5 392.0 244.9 391.3 244.3 391.5C243.7 391.7 243.8 392.5 243.3 395.0C242.8 397.5 243.1 395.7 242.7 399.0C242.3 402.3 242.7 402.5 242.0 405.0C241.3 407.5 241.6 405.9 240.5 406.5C239.4 407.1 239.3 406.6 238.7 406.7C238.9 404.9 239.5 404.9 239.3 401.3C239.1 397.7 239.5 399.1 238.0 396.0C236.5 392.9 237.4 394.7 234.7 392.0C232.0 389.3 233.1 390.7 230.0 388.0C226.9 385.3 228.2 386.7 225.3 384.0C222.4 381.3 222.8 383.6 221.3 380.0C219.8 376.4 220.2 377.3 220.7 373.3C221.2 369.3 220.3 370.2 222.7 368.0C225.1 365.8 226.2 367.1 228.0 366.7Z"/>
<path class="r" fill="#2f4e86" d="M190.5 362.0C191.3 361.3 190.8 361.2 193.0 360.0C195.2 358.8 194.3 359.7 197.0 358.5C199.7 357.3 198.3 358.0 201.0 356.5C203.7 355.0 202.7 355.5 205.0 354.0C207.3 352.5 206.4 353.1 208.0 352.0C209.6 350.9 208.7 350.1 209.7 350.8C210.7 351.5 209.6 353.2 211.0 354.0C212.4 354.8 212.0 353.0 214.0 353.3C216.0 353.6 215.0 353.6 217.0 355.0C219.0 356.4 218.2 355.5 220.0 357.5C221.8 359.5 220.7 358.7 222.5 361.0C224.3 363.3 223.7 362.6 225.5 364.5C227.3 366.4 227.2 366.0 228.0 366.7C226.2 367.1 225.1 365.8 222.7 368.0C220.3 370.2 221.2 369.3 220.7 373.3C220.2 377.3 219.8 376.4 221.3 380.0C222.8 383.6 222.4 381.3 225.3 384.0C228.2 386.7 226.9 385.3 230.0 388.0C233.1 390.7 232.0 389.3 234.7 392.0C237.4 394.7 236.5 392.9 238.0 396.0C239.5 399.1 239.1 397.7 239.3 401.3C239.5 404.9 238.9 404.9 238.7 406.7C237.6 406.9 237.3 408.2 235.3 407.3C233.3 406.4 234.5 405.5 232.7 404.0C230.9 402.5 231.8 402.3 230.0 402.7C228.2 403.1 229.5 403.3 227.3 405.3C225.1 407.3 226.1 406.5 223.3 408.7C220.5 410.9 221.4 409.6 219.0 412.0C216.6 414.4 218.0 414.3 216.0 416.0C214.0 417.7 214.2 417.3 213.0 417.0C211.8 416.7 212.0 416.7 212.5 415.0C213.0 413.3 213.5 414.0 214.5 412.0C215.5 410.0 215.7 410.8 215.5 409.0C215.3 407.2 215.5 407.8 214.0 406.5C212.5 405.2 213.3 405.7 211.0 405.0C208.7 404.3 209.2 404.2 207.0 404.5C204.8 404.8 204.8 404.5 204.5 406.0C204.2 407.5 205.2 407.0 206.0 409.0C206.8 411.0 207.7 410.0 207.0 412.0C206.3 414.0 206.3 413.3 204.0 415.0C201.7 416.7 203.0 416.2 200.0 417.0C197.0 417.8 197.3 417.0 195.0 417.5C192.7 418.0 193.7 418.2 193.0 418.5C192.3 418.0 192.2 418.3 191.0 417.0C189.8 415.7 190.3 416.5 189.5 414.5C188.7 412.5 189.2 413.5 188.5 411.0C187.8 408.5 188.0 409.7 187.5 407.0C187.0 404.3 187.3 405.7 187.0 403.0C186.7 400.3 187.3 401.5 186.5 399.0C185.7 396.5 186.2 397.8 184.5 395.5C182.8 393.2 183.0 394.2 181.5 392.0C180.0 389.8 180.3 391.2 180.0 389.0C179.7 386.8 179.7 387.8 180.5 385.5C181.3 383.2 181.3 384.5 182.5 382.0C183.7 379.5 182.8 380.7 184.0 378.0C185.2 375.3 184.5 376.7 186.0 374.0C187.5 371.3 187.2 372.7 188.5 370.0C189.8 367.3 189.3 368.7 190.0 366.0C190.7 363.3 190.3 363.3 190.5 362.0Z"/>
<path class="r" fill="#2f4e86" d="M267.0 300.0C268.0 300.7 268.0 301.0 270.0 302.0C272.0 303.0 271.0 302.3 273.0 303.0C275.0 303.7 275.0 303.7 276.0 304.0C276.7 305.7 276.0 306.3 278.0 309.0C280.0 311.7 279.7 309.3 282.0 312.0C284.3 314.7 283.7 313.3 285.0 317.0C286.3 320.7 285.0 319.0 286.0 323.0C287.0 327.0 286.3 325.0 288.0 329.0C289.7 333.0 289.3 331.3 291.0 335.0C292.7 338.7 291.7 337.0 293.0 340.0C294.3 343.0 294.3 342.7 295.0 344.0C293.3 344.7 293.7 344.7 290.0 346.0C286.3 347.3 286.0 347.3 284.0 348.0C283.0 346.7 283.3 346.5 281.0 344.0C278.7 341.5 280.0 342.5 277.0 340.5C274.0 338.5 275.7 339.2 272.0 338.0C268.3 336.8 270.0 337.0 266.0 337.0C262.0 337.0 264.0 336.3 260.0 338.0C256.0 339.7 257.3 339.3 254.0 342.0C250.7 344.7 252.2 343.5 250.0 346.0C247.8 348.5 248.3 348.3 247.5 349.5C246.5 349.3 246.3 349.5 244.5 348.8C242.7 348.1 243.0 349.3 242.0 347.5C241.0 345.7 241.7 344.8 241.5 343.5C242.7 342.2 241.5 342.3 245.0 339.5C248.5 336.7 247.7 338.2 252.0 335.0C256.3 331.8 254.7 333.7 258.0 330.0C261.3 326.3 260.3 328.7 262.0 324.0C263.7 319.3 262.3 321.3 263.0 316.0C263.7 310.7 263.2 312.3 264.0 308.0C264.8 303.7 264.5 305.7 265.5 303.0C266.5 300.3 266.5 301.0 267.0 300.0Z"/>
<path class="r" fill="#2f4e86" d="M321.0 275.0C322.7 274.5 322.3 274.2 326.0 273.5C329.7 272.8 330.0 273.2 332.0 273.0C331.7 275.0 332.7 275.7 331.0 279.0C329.3 282.3 329.7 280.3 327.0 283.0C324.3 285.7 325.0 284.0 323.0 287.0C321.0 290.0 321.0 288.7 321.0 292.0C321.0 295.3 321.0 294.0 323.0 297.0C325.0 300.0 325.3 298.0 327.0 301.0C328.7 304.0 328.7 303.2 328.0 306.0C327.3 308.8 327.0 306.8 325.0 309.5C323.0 312.2 323.5 311.2 322.0 314.0C320.5 316.8 321.5 315.3 320.5 318.0C319.5 320.7 319.5 320.7 319.0 322.0C317.7 321.8 317.8 321.3 315.0 321.5C312.2 321.7 313.3 321.7 310.5 322.5C307.7 323.3 308.7 322.7 306.5 324.0C304.3 325.3 305.1 325.0 304.0 326.5C302.9 328.0 303.5 327.8 303.3 328.5C303.1 329.4 303.0 328.6 302.7 331.3C302.4 334.0 301.8 333.1 302.3 336.7C302.8 340.3 302.6 339.1 304.3 342.0C306.0 344.9 306.8 344.0 307.5 345.5C308.2 347.0 305.9 344.5 306.3 346.5C306.7 348.5 307.9 349.8 308.7 351.5C308.0 351.2 308.3 351.7 306.5 350.5C304.7 349.3 305.5 349.7 303.3 348.0C301.1 346.3 302.8 346.6 300.0 345.3C297.2 344.0 296.7 344.4 295.0 344.0C294.3 342.7 294.3 343.0 293.0 340.0C291.7 337.0 292.7 338.7 291.0 335.0C289.3 331.3 289.7 333.0 288.0 329.0C286.3 325.0 287.0 327.0 286.0 323.0C285.0 319.0 286.3 320.7 285.0 317.0C283.7 313.3 284.3 314.7 282.0 312.0C279.7 309.3 280.0 311.7 278.0 309.0C276.0 306.3 276.7 305.7 276.0 304.0C277.3 302.7 277.0 302.3 280.0 300.0C283.0 297.7 281.7 299.3 285.0 297.0C288.3 294.7 286.3 295.7 290.0 293.0C293.7 290.3 291.7 291.0 296.0 289.0C300.3 287.0 298.7 288.7 303.0 287.0C307.3 285.3 305.0 286.7 309.0 284.0C313.0 281.3 311.0 282.0 315.0 279.0C319.0 276.0 319.0 276.3 321.0 275.0Z"/>
<path class="r" fill="#2f4e86" d="M319.0 322.0C320.3 321.9 320.4 321.6 323.0 321.8C325.6 322.0 323.5 321.5 326.7 322.7C329.9 323.9 329.4 323.3 332.7 325.3C336.0 327.3 334.3 326.7 336.7 328.7C339.1 330.7 338.7 329.1 340.0 331.3C341.3 333.5 340.5 334.0 340.7 335.3C338.8 335.5 338.2 335.5 335.0 336.0C331.8 336.5 333.7 336.0 331.0 336.7C328.3 337.4 329.8 337.3 327.0 338.0C324.2 338.7 325.3 338.0 322.5 338.7C319.7 339.4 321.0 338.9 318.5 340.0C316.0 341.1 316.2 341.3 315.0 342.0C314.3 342.7 314.1 343.6 313.0 344.0C311.9 344.4 312.8 344.4 311.7 343.3C310.6 342.2 310.8 342.9 309.7 340.7C308.6 338.5 309.4 339.4 308.3 336.7C307.2 334.0 307.4 335.1 306.3 332.7C305.2 330.3 306.0 330.9 305.0 329.5C304.0 328.1 303.9 328.8 303.3 328.5C303.5 327.8 302.9 328.0 304.0 326.5C305.1 325.0 304.3 325.3 306.5 324.0C308.7 322.7 307.7 323.3 310.5 322.5C313.3 321.7 312.2 321.7 315.0 321.5C317.8 321.3 317.7 321.8 319.0 322.0Z"/>
<path class="r" fill="#2f4e86" d="M315.0 342.0C316.2 341.3 316.0 341.1 318.5 340.0C321.0 338.9 319.7 339.4 322.5 338.7C325.3 338.0 324.2 338.7 327.0 338.0C329.8 337.3 328.3 337.4 331.0 336.7C333.7 336.0 331.8 336.5 335.0 336.0C338.2 335.5 338.8 335.5 340.7 335.3C341.5 335.9 341.5 335.9 343.0 337.0C344.5 338.1 343.2 337.0 345.3 338.7C347.4 340.4 346.6 339.8 349.3 342.0C352.0 344.2 350.6 343.5 353.3 345.3C356.0 347.1 354.8 346.2 357.3 347.3C359.8 348.4 359.1 347.8 360.7 348.7C362.3 349.6 361.6 349.6 362.0 350.0C361.2 350.8 361.0 350.5 359.5 352.5C358.0 354.5 357.3 354.0 357.5 356.0C357.7 358.0 358.8 356.8 360.0 358.5C361.2 360.2 361.5 359.7 361.0 361.0C360.5 362.3 360.2 362.5 358.5 362.5C356.8 362.5 357.2 362.7 356.0 361.0C354.8 359.3 356.5 359.2 355.0 357.5C353.5 355.8 354.3 356.3 351.5 356.0C348.7 355.7 350.3 356.0 346.5 356.5C342.7 357.0 344.3 356.8 340.0 357.5C335.7 358.2 337.3 357.7 333.5 358.5C329.7 359.3 331.3 359.2 328.5 360.0C325.7 360.8 326.7 361.8 325.0 361.0C323.3 360.2 324.6 360.3 323.3 357.5C322.0 354.7 322.6 355.8 321.0 352.5C319.4 349.2 320.2 350.2 318.5 347.5C316.8 344.8 317.2 346.3 316.0 344.5C314.8 342.7 315.3 342.8 315.0 342.0Z"/>
<path class="r" fill="#6292d1" d="M284.5 358.0C285.1 356.0 284.7 357.8 286.2 360.0C287.8 362.2 287.2 361.5 289.2 364.5C291.2 367.5 290.0 366.0 292.2 369.0C294.5 372.0 293.5 370.5 296.0 373.5C298.5 376.5 299.0 375.8 299.8 378.0C300.5 380.2 300.0 378.5 298.2 380.2C296.5 382.0 297.2 381.5 294.5 383.2C291.8 385.0 293.0 385.0 290.0 385.5C287.0 386.0 287.2 386.5 285.5 384.8C283.8 383.0 285.2 383.8 284.8 380.2C284.2 376.8 283.8 377.3 284.0 374.2C284.2 371.2 285.3 373.8 285.5 371.0C285.7 368.2 284.8 370.3 284.5 366.0C284.2 361.7 283.9 360.0 284.5 358.0Z"/>
<path class="r" fill="#6292d1" d="M305.8 366.0C307.5 366.8 307.5 367.0 308.8 369.8C310.0 372.5 310.2 371.5 309.5 374.2C308.8 377.0 309.0 376.2 306.5 378.0C304.0 379.8 304.1 379.4 302.0 379.5C299.9 379.6 300.7 379.6 300.2 378.3C299.7 377.1 299.9 377.9 300.5 375.8C301.1 373.6 301.0 374.8 302.0 372.0C303.0 369.2 302.2 369.5 303.5 367.5C304.8 365.5 304.0 365.2 305.8 366.0Z"/>
<path class="r" fill="#97d0e6" d="M284.0 348.5C285.6 347.0 285.4 347.1 288.7 346.0C292.0 344.9 290.7 345.1 294.0 345.3C297.3 345.5 295.8 345.1 298.7 346.7C301.6 348.3 300.6 347.7 302.7 350.0C304.8 352.3 304.1 350.7 305.0 353.5C305.9 356.3 305.1 355.3 305.3 358.5C305.6 361.7 306.4 360.0 305.8 363.0C305.1 366.0 304.8 364.5 303.5 367.5C302.2 370.5 303.0 369.2 302.0 372.0C301.0 374.8 301.2 373.8 300.5 375.8C299.8 377.8 301.2 378.8 299.8 378.0C298.2 377.2 298.5 376.5 296.0 373.5C293.5 370.5 294.5 372.0 292.2 369.0C290.0 366.0 291.2 367.5 289.2 364.5C287.2 361.5 287.8 363.5 286.2 360.0C284.8 356.5 285.6 357.2 284.8 354.0C283.9 350.8 284.1 352.3 283.8 350.5C283.6 348.7 282.4 350.0 284.0 348.5Z"/>
<path class="r" fill="#6292d1" d="M454.3 299.8C455.2 296.9 454.5 299.0 456.5 298.0C458.5 297.0 457.2 296.9 460.2 296.9C463.2 296.9 462.7 296.5 465.4 298.1C468.1 299.7 466.6 300.0 468.3 301.6C470.0 303.2 469.5 302.6 470.5 303.0C471.5 303.4 470.4 303.6 471.2 302.8C472.1 301.9 471.8 302.5 473.0 300.4C474.2 298.2 473.6 299.2 474.8 296.3C475.9 293.4 474.8 294.4 476.5 291.7C478.2 289.0 478.1 289.8 480.0 288.2C481.9 286.6 480.4 286.4 482.3 287.0C484.2 287.6 484.8 287.2 485.8 289.9C486.8 292.6 486.4 292.1 485.2 295.2C484.1 298.3 484.4 296.7 482.3 299.2C480.2 301.8 480.9 300.8 478.8 302.8C476.7 304.7 477.4 304.2 475.9 305.1C474.4 306.0 475.2 304.8 474.2 305.4C473.2 306.0 473.1 305.0 473.0 307.0C472.9 309.0 473.8 309.0 474.0 311.5C474.2 314.0 474.5 313.3 473.5 314.5C472.5 315.7 472.3 315.5 471.0 315.0C469.7 314.5 470.3 313.3 469.5 313.0C468.7 312.7 469.7 313.1 468.5 314.0C467.3 314.9 468.0 314.3 466.0 315.6C464.0 316.9 465.0 317.5 462.5 317.9C460.0 318.3 460.9 318.5 458.4 316.8C455.9 315.0 456.4 316.0 454.9 312.7C453.3 309.4 453.9 311.1 453.8 306.8C453.6 302.5 453.4 302.7 454.3 299.8Z"/>
</g>
<g id="labels">
<text class="lb" x="304.8" y="216.4">韶关</text><text class="nm" x="304.6" y="226.7">477</text>
<text class="lb" x="269.9" y="266.8">清远</text><text class="nm" x="269.9" y="276.7">474</text>
<text class="lb" x="375.7" y="264.9">河源</text><text class="nm" x="376.0" y="275.0">316</text>
<text class="lb" x="429.3" y="247.5">梅州</text><text class="nm" x="429.6" y="257.7">372</text>
<text class="lb" x="469.0" y="274.2">潮州</text><text class="nm" x="470.0" y="284.4">131</text>
<text class="lb" x="224.7" y="297.5">肇庆</text><text class="nm" x="224.7" y="307.7">394</text>
<text class="lw" x="295.0" y="306.2">广州</text><text class="nw" x="295.7" y="316.0">730</text>
<text class="lb" x="339.7" y="315.2">惠州</text><text class="nm" x="340.0" y="325.3">369</text>
<text class="lb" x="428.0" y="301.2">揭阳</text><text class="nm" x="428.7" y="311.0">274</text>
<text class="lb" x="467.8" y="312.7">汕头</text><text class="nm" x="467.8" y="322.6">520</text>
<text class="lw" x="267.7" y="324.2">佛山</text><text class="nw" x="268.3" y="334.7">687</text>
<text class="lw" x="310.3" y="330.8">东莞</text><text class="nw" x="310.3" y="341.3">684</text>
<text class="lb" x="400.0" y="329.2">汕尾</text><text class="nm" x="400.7" y="339.0">108</text>
<text class="lw" x="328.0" y="346.2">深圳</text><text class="nw" x="328.0" y="356.0">622</text>
<text class="lb" x="194.0" y="334.4">云浮</text><text class="nm" x="194.3" y="345.0">596</text>
<text class="lb" x="287.0" y="359.4">中山</text><text class="nm" x="287.8" y="369.8">293</text>
<text class="lb" x="239.0" y="373.7">江门</text><text class="nm" x="239.0" y="384.3">432</text>
<text class="lb" x="299.0" y="388.0">珠海</text><text class="nm" x="299.3" y="398.2">423</text>
<text class="lw" x="192.9" y="387.7">阳江</text><text class="nw" x="193.3" y="398.0">612</text>
<text class="lb" x="144.3" y="395.8">茂名</text><text class="nm" x="145.0" y="406.3">213</text>
<text class="lb" x="109.9" y="428.5">湛江</text><text class="nm" x="110.3" y="439.0">421</text>
</g>
<g id="legend">
<text class="lg" x="448" y="404" style="font-size:10px">图例</text>
<rect x="430.4" y="414" width="14" height="14.6" fill="#2f4e86"/>
<rect x="430.4" y="432.5" width="14" height="14.6" fill="#5b8dd0"/>
<rect x="430.4" y="451" width="14" height="14.6" fill="#92d2e6"/>
<rect x="430.4" y="469.6" width="14" height="14.6" fill="#c3dba0"/>
<text class="lg" x="450" y="424.5">600以上</text>
<text class="lg" x="450" y="443">400-599</text>
<text class="lg" x="450" y="462.5">200-399</text>
<text class="lg" x="450" y="481">199以下</text>
</g>
</svg>

<div class="abs cap" style="left:124.2px;top:502.8px;letter-spacing:1.18px">图<b style="margin:0 6.6px 0 4.3px">3.</b>截至<b style="margin:0 5px 0 1.2px">2018</b>年底广东电力市场用户地市分布情况<span style="margin-left:-3px">（</span>单位<span style="margin-right:-2.5px">：</span>家）</div>
<div class="abs cap" style="left:142.4px;top:532.8px;letter-spacing:0.9px"><span style="letter-spacing:1.18px">表<b style="margin:0 6.6px 0 4.3px">9.</b>截至<b style="margin:0 4.6px 0 1.2px">2018</b></span>年底广东电力市场用户各地分布与增长情况</div>

<div class="tb">
<div class="row hd" style="top:549.00px;height:28.20px;line-height:34.60px"><span style="left:0.00px;width:36.50px">序号</span><span style="left:36.50px;width:67.50px">地市</span><span style="left:104.00px;width:106.00px">用户数<u style="left:-1.3px">（</u>家<u style="left:3.3px">）</u></span><span style="left:210.00px;width:104.50px">用户数占比<u style="left:-1.3px">（</u>%<u style="left:2.6px">）</u></span><span style="left:314.50px;width:105.25px">同比增长<u style="left:-1.3px">（</u>%<u style="left:2.6px">）</u></span></div>
<div class="row bd o" style="top:577.20px;height:30.80px;line-height:33.60px"><span style="left:0.00px;width:36.50px">1</span><span class="c" style="left:36.50px;width:67.50px">广州</span><span style="left:104.00px;width:106.00px">730</span><span style="left:210.00px;width:104.50px">8.0</span><span style="left:314.50px;width:105.25px">59.7</span></div>
<div class="row bd" style="top:608.00px;height:29.60px;line-height:32.40px"><span style="left:0.00px;width:36.50px">2</span><span class="c" style="left:36.50px;width:67.50px">佛山</span><span style="left:104.00px;width:106.00px">687</span><span style="left:210.00px;width:104.50px">7.5</span><span style="left:314.50px;width:105.25px">105.7</span></div>
<div class="row bd o" style="top:637.60px;height:28.80px;line-height:31.60px"><span style="left:0.00px;width:36.50px">3</span><span class="c" style="left:36.50px;width:67.50px">东莞</span><span style="left:104.00px;width:106.00px">684</span><span style="left:210.00px;width:104.50px">7.5</span><span style="left:314.50px;width:105.25px">114.4</span></div>
<div class="row bd" style="top:666.40px;height:29.60px;line-height:32.40px"><span style="left:0.00px;width:36.50px">4</span><span class="c" style="left:36.50px;width:67.50px">深圳</span><span style="left:104.00px;width:106.00px">622</span><span style="left:210.00px;width:104.50px">6.8</span><span style="left:314.50px;width:105.25px">132.1</span></div>
<div class="row bd o" style="top:696.00px;height:29.40px;line-height:32.20px"><span style="left:0.00px;width:36.50px">5</span><span class="c" style="left:36.50px;width:67.50px">阳江</span><span style="left:104.00px;width:106.00px">612</span><span style="left:210.00px;width:104.50px">6.7</span><span style="left:314.50px;width:105.25px">23.9</span></div>
<div class="row bd" style="top:725.40px;height:29.20px;line-height:32.00px"><span style="left:0.00px;width:36.50px">6</span><span class="c" style="left:36.50px;width:67.50px">云浮</span><span style="left:104.00px;width:106.00px">596</span><span style="left:210.00px;width:104.50px">6.5</span><span style="left:314.50px;width:105.25px">72.8</span></div>
<div class="hl" style="left:90px;top:607.5px;width:420px;height:1px"></div>
<div class="hl" style="left:90px;top:637.1px;width:420px;height:1px"></div>
<div class="hl" style="left:90px;top:665.9px;width:420px;height:1px"></div>
<div class="hl" style="left:90px;top:695.5px;width:420px;height:1px"></div>
<div class="hl" style="left:90px;top:724.9px;width:420px;height:1px"></div>
<div class="hl" style="left:90px;top:754.1px;width:420px;height:1px"></div>
<div class="hl" style="left:90px;top:577.4px;width:420px;height:1px;background:#c9d9ee"></div>
<div class="vl" style="left:89.5px;top:549.0px;width:1px;height:206.1px"></div>
<div class="vl" style="left:126.0px;top:577.2px;width:1px;height:177.9px"></div>
<div class="vl" style="left:193.5px;top:577.2px;width:1px;height:177.9px"></div>
<div class="vl" style="left:299.5px;top:577.2px;width:1px;height:177.9px"></div>
<div class="vl" style="left:404.0px;top:577.2px;width:1px;height:177.9px"></div>
<div class="vl" style="left:509.0px;top:549.0px;width:1px;height:206.1px"></div>
</div>

<div class="abs pg">11</div>
<svg class="abs" style="left:432px;top:810px" width="28" height="24" viewBox="0 0 28 24">
<g fill="none" stroke="#c4c4c4" stroke-width="1.1">
<path d="M10.5 2.5C5.8 2.5 2 5.6 2 9.5c0 2.2 1.2 4.1 3.1 5.4l-.8 2.6 2.9-1.5c1 .3 2.1.5 3.3.5"/>
<path d="M18 8.5c-4.2 0-7.5 2.8-7.5 6.2s3.300 6.200 7.500 6.200c.9 0 1.800-.100 2.600-.400l2.400 1.300-.600-2.200c1.900-1.100 3.100-2.900 3.100-4.900 0-3.400-3.300-6.200-7.500-6.200z"/>
</g>
<g fill="#c4c4c4"><circle cx="7.600" cy="7.300" r="1"/><circle cx="13.200" cy="7.300" r="1"/><circle cx="15.500" cy="13.500" r=".9"/><circle cx="20.500" cy="13.500" r=".9"/></g>
</svg>
<div class="abs wm">广东电力交易中心</div>
</body>
</html>
